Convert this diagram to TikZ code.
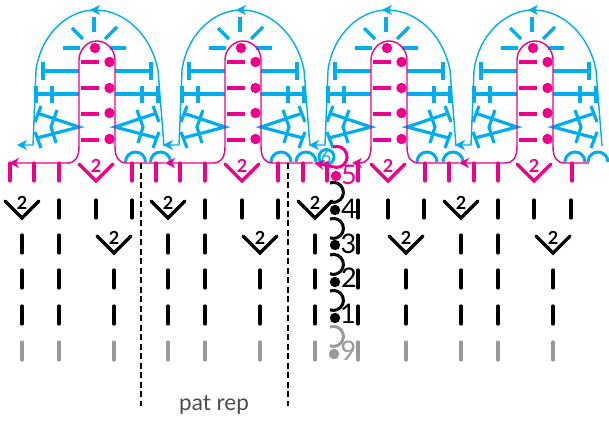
\documentclass[tikz,border=0pt]{standalone}
\usepackage{fontspec}
\setmainfont{Lato}
\usetikzlibrary{arrows.meta}
\definecolor{shellpink}{HTML}{EC008C}
\definecolor{shellcyan}{HTML}{00AEEF}
\definecolor{startgray}{HTML}{999999}
\tikzset{
  thinline/.style={line width=1.4pt},
  stitch/.style={line width=3.2pt,line cap=round,line join=miter},
  head/.style={-{Stealth[length=10pt,width=10pt,inset=3pt]}},
  rearhead/.style={{Stealth[length=10pt,width=10pt,inset=3pt]}-},
  turnchain/.style={line width=3pt},
  twolabel/.style={font=\bfseries\fontsize{18}{18}\selectfont,inner sep=0pt},
  rownum/.style={font=\fontsize{27}{27}\selectfont,inner sep=0pt},
}
% one column of a row: plain stitch, and the decrease with its small 2
\newcommand{\plainst}[2]{\draw[stitch] (#1,#2) -- (#1,#2+18);}
\newcommand{\decst}[3]{
  \draw[stitch] (#1-17,#2+1) -- (#1,#2+18) -- (#1+17,#2+1);
  \node[twolabel] (#3) at (#1,#2+3) {2};}
\begin{document}
\begin{tikzpicture}[x=1pt,y=-1pt]
  \useasboundingbox (0,0) rectangle (609,422);

  % cyan shells
  \begin{scope}[color=shellcyan]
    \foreach \cx in {97,243,389,535} {
      \begin{scope}[shift={(\cx,0)}]
        \draw[thinline,rearhead] (-80,145) -- (-64,145) -- (-61,70)
          .. controls (-56,35) and (-30,10) .. (-2,10)
          .. controls (28,10) and (54,35) .. (61,70) -- (67,146);
        \draw[thinline,head] (-2,10) -- (-7,10);
        \draw[stitch,line cap=butt] (-3,17) -- (-3,32);
        \draw[stitch,line cap=butt] (-25,28) -- (-14,39);
        \draw[stitch,line cap=butt] (20,27) -- (8,39);
        \draw[stitch,line cap=butt] (-34,48) -- (-17,48);
        \draw[stitch,line cap=butt] (13,48) -- (29,48);
        \foreach \s in {-1,1} {
          \draw[stitch,line cap=butt] (\s*18,71) -- (\s*54,71);
          \draw[stitch,line cap=butt] (\s*54,62) -- (\s*54,80);
          \draw[stitch,line cap=butt] (\s*18,94) -- (\s*61,94);
          \draw[stitch,line cap=butt] (\s*61,86) -- (\s*61,103);
          \draw[stitch,line cap=butt] (\s*45,86) -- (\s*45,103);
          \draw[stitch,line cap=butt] (\s*60,113) -- (\s*18,127) -- (\s*60,138);
          \draw[stitch,line cap=butt] (\s*56,106) -- (\s*62,122);
          \draw[stitch,line cap=butt] (\s*62,132) -- (\s*56,148);
          \draw[stitch,line cap=butt] (\s*40,110) -- (\s*46,127) -- (\s*41,143);
        }
      \end{scope}
    }
    \foreach \c in {135.5,160.5,281,306,427,453,575,598} {
      \draw[turnchain] (\c-10,162) arc[start angle=180,end angle=0,radius=10pt];
    }
    \draw[turnchain] (326.5,157) circle[radius=7.5pt];
    \node[font=\fontsize{18}{18}\selectfont,inner sep=0pt] (rowsix) at (326,157) {6};
  \end{scope}

  % pink columns and the row under them
  \begin{scope}[color=shellpink]
    \foreach \cx/\tip/\rend in {97/9/165,243/165/313,389/352/459,535/459/589} {
      \begin{scope}[shift={(\cx,0)}]
        \draw[thinline,rearhead] (\tip-\cx,163) -- (-30,163)
          .. controls (-22,163) and (-18,158) .. (-18,146) -- (-18,60)
          .. controls (-18,50) and (-10,41) .. (0,41)
          .. controls (10,41) and (18,50) .. (18,60) -- (18,146)
          .. controls (18,158) and (22,163) .. (30,163) -- (\rend-\cx,163);
        \fill (-2,48) circle[radius=5.2pt];
        \foreach \y/\d in {62/62,88/88,114/113,140/139} {
          \draw[stitch,line cap=butt] (-16,\y) -- (2,\y);
          \fill (12.5,\d) circle[radius=5.2pt];
        }
      \end{scope}
    }
    \foreach \x in {10,34,59,132,156,180,205,278,303,327,358,425,449,474,498,572} {
      \plainst{\x}{163}
    }
    \decst{96}{163}{p1}
    \decst{242}{163}{p2}
    \decst{388}{163}{p3}
    \decst{534}{163}{p4}
    \draw[turnchain,head] (333,147) arc[start angle=110,end angle=-110,radius=10.5pt] -- (314,163);
    \fill (336,176) circle[radius=5.2pt];
    \node[rownum] (rowfive) at (349,175) {5};
  \end{scope}

  % black rows
  \foreach \x in {59,96,132,205,242,278,358,388,424,498,534,571} {
    \plainst{\x}{200}
  }
  \decst{22}{200}{a1}
  \decst{168}{200}{a2}
  \decst{315}{200}{a3}
  \decst{461}{200}{a4}
  \foreach \x in {22,59,168,205,315,358,461,498} {
    \plainst{\x}{235}
  }
  \decst{114}{235}{b1}
  \decst{260}{235}{b2}
  \decst{406}{235}{b3}
  \decst{553}{235}{b4}
  \foreach \y in {270,306} {
    \foreach \x in {22,59,114,168,205,260,315,358,406,461,498,553} {
      \plainst{\x}{\y}
    }
  }
  \begin{scope}[color=startgray]
    \foreach \x in {22,59,114,168,205,260,315,358,406,461,498,553} {
      \plainst{\x}{342}
    }
    \draw[turnchain] (330,327) arc[start angle=110,end angle=-110,radius=10pt];
    \fill (334,354) circle[radius=5.2pt];
    \node[rownum] (rownine) at (348.5,351) {9};
  \end{scope}

  % turning chains and row numbers
  \foreach \t in {291,255,219,183} {
    \draw[turnchain] (330,\t) arc[start angle=110,end angle=-110,radius=10pt];
  }
  \foreach \y in {318,282,245,210} {
    \fill (335,\y) circle[radius=5.2pt];
  }
  \node[rownum] (rowone) at (348,314) {1};
  \node[rownum] (rowtwo) at (349,278) {2};
  \node[rownum] (rowthree) at (348.5,244) {3};
  \node[rownum] (rowfour) at (349,209) {4};

  % repeat marks
  \coordinate (repltop) at (141,163);
  \coordinate (replbot) at (141,406);
  \coordinate (reprtop) at (288,163);
  \coordinate (reprbot) at (288,406);
  \draw[line width=1.2pt,dash pattern=on 6pt off 3.5pt] (repltop) -- (replbot);
  \draw[line width=1.2pt,dash pattern=on 6pt off 3.5pt] (reprtop) -- (reprbot);
  \node[font=\fontsize{22.5}{22.5}\selectfont,text=black!70,anchor=base,inner sep=0pt] (patrep) at (214,410) {pat rep};
\end{tikzpicture}
\end{document}
